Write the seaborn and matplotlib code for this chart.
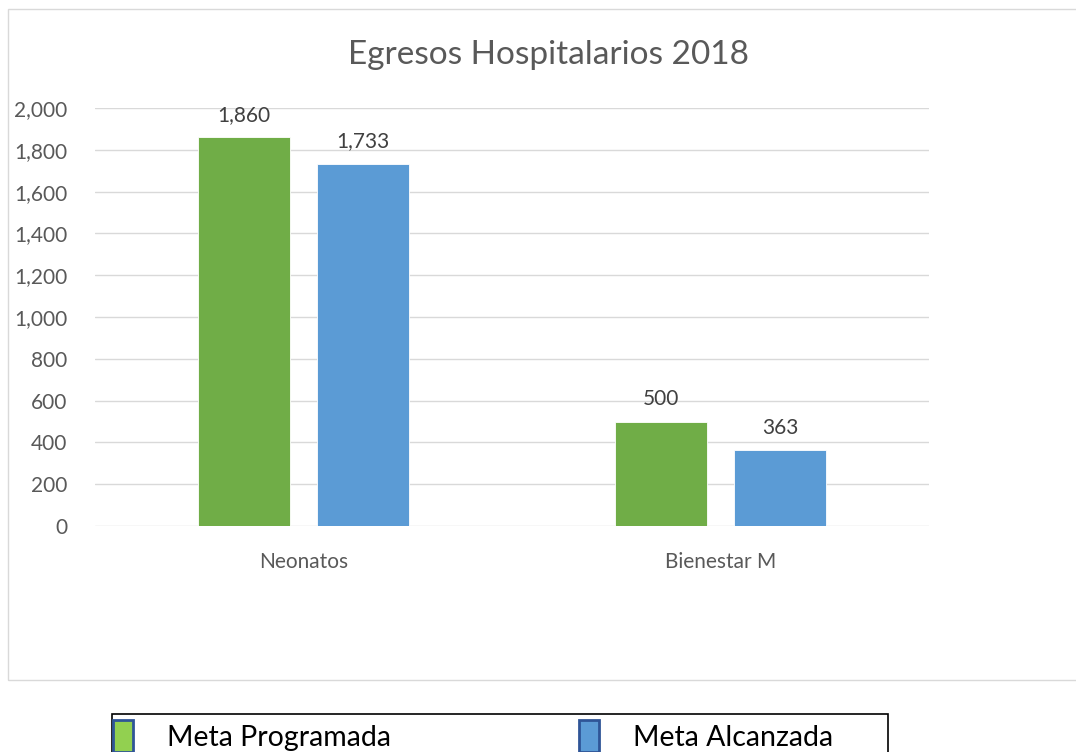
from matplotlib import pyplot as plt
from matplotlib.patches import Patch, Rectangle
import pandas as pd
import seaborn as sns

categories = ["Neonatos", "Bienestar M"]
series_names = ["Meta Programada", "Meta Alcanzada"]
meta_programada = [1860, 500]
meta_alcanzada = [1733, 363]
yticks = [0, 200, 400, 600, 800, 1000, 1200, 1400, 1600, 1800, 2000]

colors = ["#70AD47", "#5B9BD5"]
legend_colors = ["#92D050", "#5B9BD5"]

df = pd.DataFrame({
    "categoria": categories * 2,
    "serie": [series_names[0]] * 2 + [series_names[1]] * 2,
    "valor": meta_programada + meta_alcanzada,
})

sns.set_theme(style="white")
plt.rcParams["font.family"] = ["Lato", "DejaVu Sans"]

fig = plt.figure(figsize=(10.76, 7.52), dpi=100)
ax = fig.add_axes([95 / 1076, 1 - 526 / 752, (929 - 95) / 1076, (526 - 108) / 752])

sns.barplot(data=df, x="categoria", y="valor", hue="serie", palette=colors,
            saturation=1, width=0.571, gap=0.22, ax=ax, legend=False,
            edgecolor="white", linewidth=0.6)

ax.set_ylim(0, 2000)
ax.set_yticks(yticks)
ax.set_yticklabels([f"{v:,}" for v in yticks])
ax.yaxis.grid(True, color="#D9D9D9", linewidth=1)
ax.set_axisbelow(True)
sns.despine(ax=ax, left=True, bottom=True)
ax.set_xlabel("")
ax.set_ylabel("")
ax.tick_params(axis="y", labelsize=15, colors="#595959", length=0, pad=20)
ax.tick_params(axis="x", labelsize=15, colors="#595959", length=0, pad=19)

for cont in ax.containers:
    ax.bar_label(cont, labels=[f"{v:,.0f}" for v in cont.datavalues],
                 padding=9, fontsize=15, color="#404040")

fig.text(549 / 1076, 1 - 55 / 752, "Egresos Hospitalarios 2018", ha="center",
         va="center", fontsize=24, color="#595959")

# outer chart frame and legend frame
fig.patches.append(Rectangle((8 / 1076, 1 - 680 / 752), 1.2, (680 - 9) / 752,
                             transform=fig.transFigure, fill=False,
                             edgecolor="#D9D9D9", linewidth=1))
fig.patches.append(Rectangle((112 / 1076, -0.05), (888 - 112) / 1076,
                             (0.05 + 1 - 714 / 752), transform=fig.transFigure,
                             fill=False, edgecolor="black", linewidth=1.2))

handles = [Patch(facecolor=legend_colors[0], edgecolor="#2F5597", linewidth=2),
           Patch(facecolor=legend_colors[1], edgecolor="#2F5597", linewidth=2)]
fig.legend(handles, series_names, loc="center left", ncol=2, frameon=False,
           bbox_to_anchor=(87 / 1076, 1 - 736 / 752), fontsize=20.5,
           handlelength=0.7, handleheight=1.3, handletextpad=1.2,
           columnspacing=6.6, labelcolor="black")

plt.savefig("out.png", dpi=100)
